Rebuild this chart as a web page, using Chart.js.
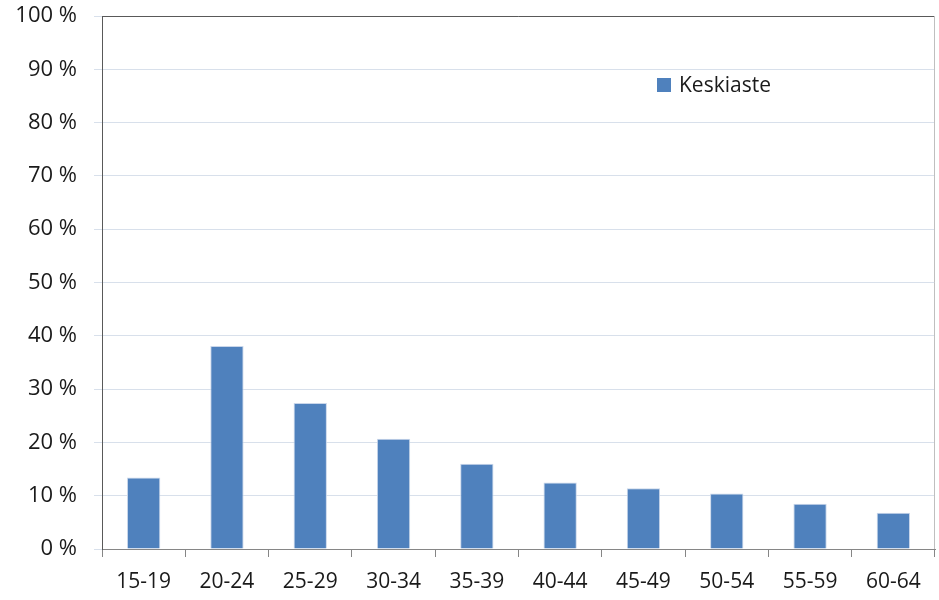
<!DOCTYPE html>
<html>
<head>
<meta charset="utf-8">
<script src="https://cdn.jsdelivr.net/npm/chart.js@4"></script>
<style>
  html, body { margin: 0; padding: 0; background: #fff; }
  #wrap { width: 939px; height: 600px; }
</style>
</head>
<body>
<div id="wrap"><canvas id="myChart" width="939" height="600"></canvas></div>
<script>
// age groups and share (%)
const ageGroups = ['15-19', '20-24', '25-29', '30-34', '35-39', '40-44', '45-49', '50-54', '55-59', '60-64'];
const keskiaste = [13.4, 38.1, 27.4, 20.7, 16.0, 12.5, 11.4, 10.4, 8.5, 6.8];
const seriesName = 'Keskiaste';
const yTicks = [0, 10, 20, 30, 40, 50, 60, 70, 80, 90, 100];

const FONT = '"Open Sans", "Liberation Sans", sans-serif';
const BLUE = '#4F81BD';

// frame round the plot area + the legend box inside it
const framePlugin = {
    id: 'frame',
    afterDraw(chart) {
        const ctx = chart.ctx;
        const a = chart.chartArea;
        ctx.save();
        ctx.lineWidth = 1;
        ctx.strokeStyle = '#595959';
        ctx.beginPath();
        ctx.moveTo(a.left + 0.5, a.top + 0.5);
        ctx.lineTo(a.right, a.top + 0.5);
        ctx.stroke();
        ctx.strokeStyle = '#BFBFBF';
        ctx.beginPath();
        ctx.moveTo(a.right - 0.5, a.top);
        ctx.lineTo(a.right - 0.5, a.bottom);
        ctx.stroke();

        // legend
        const ds = chart.data.datasets[0];
        const lx = 657, ly = 85;
        ctx.fillStyle = ds.backgroundColor;
        ctx.fillRect(lx, ly - 7, 14, 14);
        ctx.fillStyle = '#1a1a1a';
        ctx.font = '21px ' + FONT;
        ctx.textBaseline = 'middle';
        ctx.textAlign = 'left';
        ctx.fillText(ds.label, lx + 22, ly + 1);
        ctx.restore();
    }
};

new Chart(document.getElementById('myChart'), {
    type: 'bar',
    data: {
        labels: ageGroups,
        datasets: [{
            label: seriesName,
            data: keskiaste,
            backgroundColor: BLUE,
            borderColor: '#c9d6ea',
            borderWidth: 1,
            categoryPercentage: 0.8,
            barPercentage: 0.5
        }]
    },
    options: {
        responsive: false,
        animation: false,
        layout: { padding: { top: 16, right: 4, left: 0, bottom: 0 } },
        plugins: {
            legend: { display: false },
            tooltip: { enabled: false }
        },
        scales: {
            x: {
                offset: true,
                afterFit: s => { s.height = 51; s.paddingLeft = 0; s.paddingRight = 0; },
                grid: {
                    offset: true,
                    drawOnChartArea: false,
                    drawTicks: true,
                    tickLength: 8,
                    color: '#868686'
                },
                border: { color: '#868686', width: 1 },
                ticks: {
                    color: '#1a1a1a',
                    font: { family: FONT, size: 21 },
                    padding: 12,
                    maxRotation: 0
                }
            },
            y: {
                min: 0,
                max: 100,
                afterFit: s => { s.width = 102; s.paddingTop = 0; s.paddingBottom = 0; },
                afterBuildTicks: s => { s.ticks = yTicks.map(v => ({ value: v })); },
                grid: {
                    color: '#d8e0eb',
                    tickLength: 8,
                    drawTicks: true
                },
                border: { color: '#595959', width: 1 },
                ticks: {
                    color: '#1a1a1a',
                    font: { family: FONT, size: 22 },
                    padding: 17,
                    callback: v => v + ' %'
                }
            }
        }
    },
    plugins: [framePlugin]
});
</script>
</body>
</html>
